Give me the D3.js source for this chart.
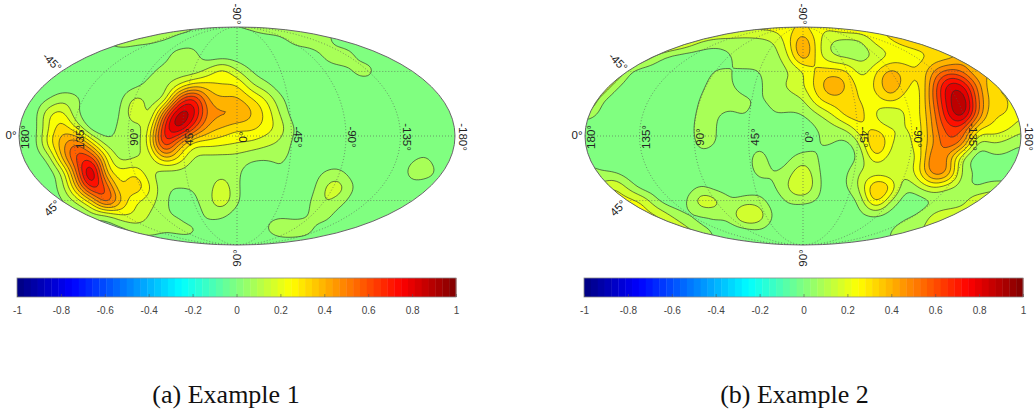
<!DOCTYPE html>
<html><head><meta charset="utf-8">
<script src="https://cdn.jsdelivr.net/npm/d3@7/dist/d3.min.js"></script>
<style>html,body{margin:0;padding:0;background:#fff}svg{display:block}</style>
</head><body><svg id="chart" width="1035" height="412"></svg>
<script>
const example1 = [
[0,0,0,0,0,0,0,15,15,15,15,10,6,5,5,6,7,10,10,12,12,10,0,0,0,0,0,0,0,0,0],
[0,0,0,0,0,0,5,9,7,6,3,0,2,0,0,0,0,0,2,7,9,9,0,0,0,0,0,0,0,0,0],
[0,0,0,0,0,0,0,0,0,0,2,10,9,0,0,0,0,0,0,0,0,6,12,6,0,0,0,0,0,0,0],
[0,0,0,0,0,0,0,0,0,3,8,8,7,15,25,13,4,0,0,0,0,0,0,6,9,0,0,0,0,0,0],
[0,0,0,0,0,0,0,0,2,8,10,20,32,32,28,30,14,7,0,0,0,0,0,0,0,0,0,0,0,0,0],
[0,0,4,11,7,0,0,3,17,10,13,60,75,45,39,39,31,21,7,0,0,0,0,0,0,0,0,0,0,0,0],
[0,0,20,25,5,0,0,5,21,9,55,92,82,50,47,46,38,27,12,0,0,0,0,0,0,0,0,0,0,0,0],
[0,0,20,35,20,0,0,8,9,22,72,88,62,42,36,30,31,25,17,4,0,0,0,0,0,0,0,0,0,0,0],
[0,0,25,42,55,30,8,8,9,25,72,45,25,25,23,21,19,15,11,2,0,0,0,0,0,0,0,0,0,0,0],
[0,0,7,40,65,65,28,9,13,15,38,28,12,10,10,10,7,6,6,3,0,0,0,0,0,0,0,3,6,0,0],
[0,0,0,15,55,92,35,24,28,14,9,10,8,9,10,7,0,0,5,0,0,5,7,0,0,0,0,8,9,3,0],
[0,0,0,10,40,75,60,27,37,22,7,6,6,9,19,6,0,0,0,0,0,13,18,5,0,0,0,2,0,0,0],
[0,0,0,4,15,33,62,38,21,17,7,0,3,10,19,6,0,0,0,0,4,14,9,0,0,0,0,0,0,0,0],
[0,0,0,0,0,8,8,20,20,12,6,5,0,7,6,0,0,3,4,3,5,9,0,0,0,0,0,0,0,0,0],
[0,0,0,0,0,0,0,0,7,8,6,7,7,0,0,0,0,5,9,9,7,0,0,0,0,0,0,0,0,0,0],
[0,0,0,0,0,0,0,0,0,0,0,0,0,0,0,0,0,0,0,0,0,0,0,0,0,0,0,0,0,0,0]
];
const example2 = [
[35,35,35,35,35,35,30,30,30,25,25,25,25,25,25,30,22,25,30,30,30,30,35,35,35,35,35,35,35,35,35],
[35,35,35,35,35,35,30,22,13,10,9,8,9,13,26,46,24,12,9,11,24,29,32,34,35,35,35,35,35,35,35],
[35,35,35,30,22,9,2,0,0,0,5,7,8,10,20,46,24,13,10,10,13,21,24,26,30,32,40,40,40,40,40],
[35,35,30,7,0,0,0,0,0,6,5,5,5,9,12,20,31,32,30,16,28,40,33,30,45,55,50,35,40,40,40],
[35,30,9,0,0,0,0,0,3,9,6,0,3,11,14,21,33,44,37,25,30,46,33,26,55,82,78,50,30,28,28],
[35,8,0,0,0,0,0,0,6,9,9,7,4,8,10,12,28,34,33,28,25,33,24,26,55,82,94,55,33,30,25],
[10,3,0,0,0,0,0,0,8,6,3,6,0,5,4,5,12,21,33,32,20,12,22,27,50,78,92,55,30,30,22],
[0,0,0,0,0,0,0,0,10,5,0,0,0,0,0,0,5,9,14,28,28,22,21,25,48,65,62,30,27,23,15],
[0,0,0,0,0,0,0,0,8,5,0,0,2,0,0,0,5,6,2,15,42,22,17,27,45,60,50,10,13,10,6],
[0,0,0,0,0,0,0,0,2,0,0,0,10,0,3,9,5,0,0,8,28,17,16,23,55,42,12,0,3,3,0],
[10,6,4,0,0,0,0,0,0,0,0,0,8,5,9,20,6,0,4,14,15,14,14,28,52,45,10,5,0,0,0],
[15,15,22,10,0,0,0,0,5,0,0,0,2,4,14,24,7,0,5,16,40,31,7,14,22,15,8,3,9,9,9],
[25,25,25,25,20,5,0,5,20,17,6,9,8,0,6,6,4,0,0,8,33,12,0,0,4,4,9,22,22,22,22],
[25,25,25,25,25,22,12,3,3,6,8,25,20,3,0,0,0,0,0,3,4,0,3,7,16,22,22,22,22,22,22],
[25,25,25,25,25,25,25,17,7,3,0,0,3,0,0,0,0,0,0,0,0,5,10,12,18,22,22,22,22,22,22],
[20,20,20,20,20,20,20,20,20,3,0,0,0,0,0,0,0,0,0,0,0,5,10,15,15,15,15,15,15,15,15]
];
const contourLevels = [5,13,21,29,37,45,53,61,69,77,85];
const bandValues = [0,.08,.16,.24,.32,.40,.48,.56,.64,.72,.80,.88];
const lonTicks = [-180,-135,-90,-45,0,45,90,135,180];
const barTicks = [-1,-.8,-.6,-.4,-.2,0,.2,.4,.6,.8,1];
const captions = ["(a) Example 1","(b) Example 2"];
const panels = [
  {grid:example1, cx:237, bar:[17,456], caption:captions[0], capX:226},
  {grid:example2, cx:803, bar:[584,1023], caption:captions[1], capX:794.5}
];

const rx=218, ry=109, cy=136;
const clamp=v=>Math.max(0,Math.min(1,v));
function jet(v){
  const t=(v+1)/2;
  const c=o=>Math.round(255*clamp(1.5-Math.abs(4*t-o)));
  return `rgb(${c(3)},${c(2)},${c(1)})`;
}
function mollweideRaw(l,p){
  let th=p;
  const target=Math.PI*Math.sin(p);
  if(Math.abs(Math.abs(p)-Math.PI/2)<1e-6){th=p;}
  else for(let i=0;i<30;i++){
    const d=(2*th+Math.sin(2*th)-target)/(2+2*Math.cos(2*th));
    th-=d; if(Math.abs(d)<1e-8)break;
  }
  return [2*Math.SQRT2/Math.PI*l*Math.cos(th), Math.SQRT2*Math.sin(th)];
}
function cr(a,b,c,d,t){
  return .5*(2*b+(c-a)*t+(2*a-5*b+4*c-d)*t*t+(3*b-a-3*c+d)*t*t*t);
}
function refine(grid,f){
  const R=grid.length,C=grid[0].length,w=(C-1)*f+1,h=(R-1)*f+1,out=new Float64Array(w*h);
  const at=(j,i)=>grid[Math.max(0,Math.min(R-1,j))][Math.max(0,Math.min(C-1,i))];
  for(let y=0;y<h;y++){
    const j=Math.min(R-2,Math.floor(y/f)),v=y/f-j;
    for(let x=0;x<w;x++){
      const i=Math.min(C-2,Math.floor(x/f)),u=x/f-i;
      const col=[-1,0,1,2].map(k=>cr(at(j+k,i-1),at(j+k,i),at(j+k,i+1),at(j+k,i+2),u));
      out[y*w+x]=cr(col[0],col[1],col[2],col[3],v);
    }
  }
  d3.blur2({data:out,width:w,height:h},1.6);
  return {values:out,w,h};
}

const svg=d3.select("#chart");
const defs=svg.append("defs");
panels.forEach((P,pi)=>{
  const g=svg.append("g");
  const projection=d3.geoProjection(mollweideRaw).scale(ry/Math.SQRT2).translate([P.cx,cy]).precision(.2);
  const path=d3.geoPath(projection);
  defs.append("clipPath").attr("id","clip"+pi).append("path").attr("d",path({type:"Sphere"}));

  const F=6, fld=refine(P.grid,F);
  const sx=d3.scaleLinear([0,fld.w-1],[P.cx-rx,P.cx+rx]);
  const sy=d3.scaleLinear([0,fld.h-1],[cy-ry,cy+ry]);
  const toScreen=d3.geoPath(d3.geoTransform({point(x,y){this.stream.point(sx(x-.5),sy(y-.5));}}));
  const contours=d3.contours().size([fld.w,fld.h]).thresholds(contourLevels)(fld.values);

  const map=g.append("g").attr("clip-path",`url(#clip${pi})`);
  map.append("path").attr("d",path({type:"Sphere"})).attr("fill",jet(bandValues[0]));
  map.selectAll("path.band").data(contours).join("path").attr("class","band")
    .attr("d",toScreen).attr("fill",(d,i)=>jet(bandValues[i+1]))
    .attr("stroke","#2a2a2a").attr("stroke-width",.7).attr("stroke-opacity",.9);

  const grat=d3.geoGraticule().extent([[-180,-90],[180,90.001]]).step([45,45])
    .extentMajor([[-180,-90],[180,90.001]]).stepMajor([45,45]);
  map.append("path").attr("d",path(grat())).attr("fill","none")
    .attr("stroke","#555").attr("stroke-width",.8).attr("stroke-dasharray","1 2").attr("stroke-opacity",.75);
  g.append("path").attr("d",path({type:"Sphere"})).attr("fill","none").attr("stroke","#666").attr("stroke-width",1);

  const lab=g.append("g").attr("font-family","'Liberation Sans',Arial,sans-serif").attr("font-size",11.5).attr("fill","#222")
    .attr("text-anchor","middle").attr("dominant-baseline","central");
  lonTicks.forEach(l=>{
    const [x,y]=projection([l,0]);
    const v=-l, px=x+6+(l===180?2:0);
    lab.append("text").attr("transform",`translate(${px},${y+1}) rotate(${v>=0?-90:90})`).text(v+"°");
  });
  const put=(t,dx,dy,rot)=>lab.append("text").attr("transform",`translate(${P.cx+dx},${dy}) rotate(${rot})`).text(t);
  put("0°",-226,135,0);
  put("-45°",-185,62,45);
  put("45°",-185,208,-45);
  put("-90°",0,14,90);
  put("90°",0,258,-90);

  const bx=d3.scaleLinear([-1,1],P.bar);
  const bar=g.append("g");
  d3.range(64).forEach(i=>{
    const a=-1+2*i/64,b=-1+2*(i+1)/64;
    bar.append("rect").attr("x",bx(a)).attr("y",278).attr("width",bx(b)-bx(a)+.4).attr("height",19).attr("fill",jet((a+b)/2));
  });
  bar.append("rect").attr("x",P.bar[0]).attr("y",278).attr("width",P.bar[1]-P.bar[0]).attr("height",19)
    .attr("fill","none").attr("stroke","#8a8a8a").attr("stroke-width",.8);
  const ax=g.append("g").attr("transform","translate(0,297)").call(d3.axisBottom(bx).tickValues(barTicks).tickSize(-3).tickPadding(10).tickFormat(d=>String(d)));
  ax.select(".domain").remove();
  ax.selectAll(".tick line").attr("stroke","#555").attr("stroke-width",.6);
  ax.selectAll("text").attr("font-family","'Liberation Sans',Arial,sans-serif").attr("font-size",10).attr("fill","#444");

  g.append("text").attr("x",P.capX).attr("y",403).attr("text-anchor","middle")
    .attr("font-family","'Liberation Serif','Times New Roman',serif").attr("font-size",26).attr("fill","#111").text(P.caption);
});
</script></body></html>
